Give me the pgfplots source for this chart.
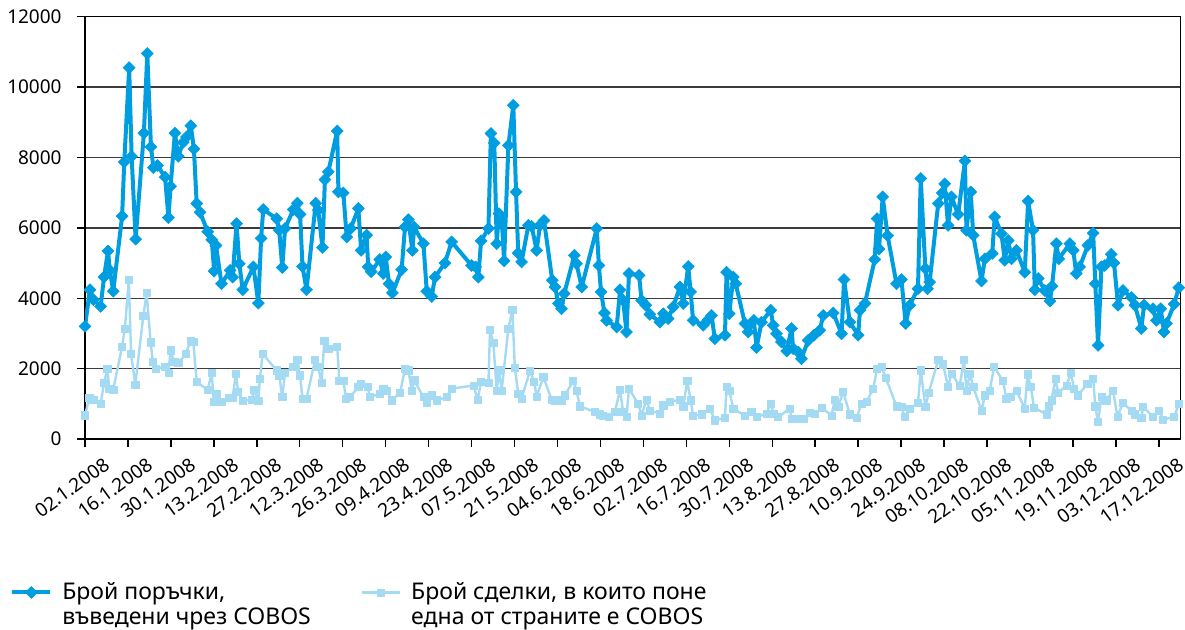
\documentclass[border=0pt]{standalone}
\usepackage{fontspec}
\setmainfont{Noto Sans}[Script=Cyrillic,Language=Bulgarian]
\usepackage{pgfplots}
\usepackage{pgfplotstable}
\pgfplotsset{compat=1.18}
\definecolor{darkser}{RGB}{0,158,224}
\definecolor{lightser}{RGB}{165,218,243}
\definecolor{gridc}{RGB}{60,60,60}

\pgfplotstableread{
d v
0 3200
1.6 4240
2.7 3960
5.1 3770
6.2 4600
7.5 5340
8.1 4790
9.2 4200
12.1 6330
12.8 7870
14.4 10550
15.2 8030
16.5 5680
19.2 8690
20.3 10950
21.5 8300
22.3 7710
23.6 7770
26.1 7440
27.2 6290
27.9 7180
29.3 8690
30.4 8030
32.0 8430
33.1 8580
34.5 8900
35.5 8240
36.4 6690
37.5 6440
40.0 5890
41.3 5660
42.1 4770
42.7 5500
44.5 4410
47.3 4790
48.1 4600
49.4 6120
50.3 4980
51.4 4240
54.9 4890
56.5 3860
57.4 5700
58.1 6520
62.5 6260
63.3 5930
64.3 4870
65.2 5980
67.9 6520
69.2 6700
70.1 6380
70.9 4900
72.2 4240
75.2 6700
76.0 6500
77.4 5440
78.2 7370
79.3 7590
82.2 8750
82.6 7020
84.2 6990
85.3 5740
86.6 5980
89.1 6550
90.0 5360
91.8 5790
92.3 4890
93.3 4750
96.1 5100
97.2 4700
98.0 5170
99.1 4410
100.2 4150
103.2 4810
104.3 6020
105.4 6230
106.7 5360
107.3 6020
110.3 5550
111.4 4200
113.0 4050
114.1 4600
117.3 5000
119.5 5600
126.0 4930
127.3 4890
128.2 4600
129.1 5630
131.5 5980
132.3 8680
133.4 8410
134.2 5550
134.9 6400
135.8 6310
136.6 5060
138.0 8340
139.6 9480
140.5 7020
141.2 5280
142.3 5030
144.5 6070
145.6 6040
147.2 5360
148.3 6070
149.6 6210
152.3 4510
153.2 4320
154.3 3850
155.3 3700
156.2 4130
159.5 5220
160.2 4980
161.9 4320
166.8 5980
167.5 4930
168.2 4180
169.3 3580
170.0 3370
173.3 3180
174.4 4240
175.4 3940
176.5 3040
177.3 4700
180.6 4650
181.4 3940
182.8 3800
184.1 3540
187.4 3320
188.5 3560
190.1 3420
191.7 3750
193.9 4320
195.0 3850
196.6 4900
197.4 4180
198.2 3370
201.5 3230
203.1 3390
204.2 3510
205.3 2850
208.6 2950
209.1 4740
210.0 3560
211.3 4600
212.1 4410
215.1 3280
216.2 3040
218.0 3370
218.9 2600
220.5 3320
223.5 3660
224.3 3230
225.4 2990
227.0 2760
228.7 2500
230.3 3140
230.8 2570
232.5 2470
233.5 2280
235.7 2800
237.6 2950
239.5 3090
240.6 3510
243.9 3580
246.6 2990
247.4 4530
249.3 3320
252.0 2950
252.6 3660
254.2 3850
257.4 5100
258.2 6260
258.8 5400
260.0 6880
261.6 5780
264.5 4410
266.1 4530
267.5 3280
268.8 3800
271.5 4270
272.4 7400
273.9 4840
274.6 4270
275.3 4460
278.1 6690
279.4 6990
280.2 7250
281.3 6070
282.4 6880
284.6 6380
286.8 7900
287.3 5930
288.7 7020
289.5 5790
292.2 4490
293.3 5120
295.7 5270
296.5 6310
298.7 5830
299.8 5080
300.9 5640
302.0 5120
303.6 5360
306.3 4740
307.4 6760
309.0 5930
309.6 4240
310.7 4560
312.8 4220
314.5 3920
315.2 4340
316.6 5550
317.4 5120
321.0 5550
322.1 5360
323.1 4700
324.2 4890
326.9 5500
328.6 5850
329.3 4410
330.2 2660
331.3 4890
332.4 4930
334.5 5250
335.4 5000
336.7 3800
338.3 4220
341.1 4020
342.2 3800
344.3 3140
345.2 3800
348.1 3700
349.2 3370
350.6 3700
351.7 3040
352.5 3280
355.0 3830
356.5 4300
}\darkdata

\pgfplotstableread{
d v
0 672
1.4 1170
2.7 1120
5.1 1000
6.2 1590
7.3 2000
7.9 1430
9.2 1400
12.1 2630
13.0 3140
14.3 4530
15.0 2420
16.4 1550
19.0 3490
20.1 4150
21.4 2750
22.1 2190
23.1 1990
26.1 2060
27.2 1890
27.9 2520
29.1 2190
30.4 2160
32.9 2420
34.4 2800
35.3 2760
36.4 1620
40.0 1400
41.3 1880
42.0 1050
42.9 1290
44.5 1050
47.0 1170
48.1 1170
49.2 1860
49.9 1340
51.4 1080
54.3 1120
55.1 1400
56.5 1080
57.0 1710
57.9 2420
62.5 1950
63.3 1810
64.3 1190
65.2 1880
67.9 2060
69.2 2250
70.1 1810
70.9 1150
72.2 1150
75.0 2250
76.0 2050
77.1 1590
78.0 2780
79.3 2570
82.2 2630
82.9 1650
84.2 1650
85.1 1150
86.4 1190
89.1 1480
90.0 1570
92.1 1480
92.9 1190
96.1 1290
97.2 1430
98.3 1380
99.9 1100
102.7 1310
104.3 2000
105.4 1950
106.5 1380
107.3 1670
110.3 1190
111.4 1020
113.0 1240
114.6 1100
117.9 1190
119.5 1430
126.6 1520
128.0 1120
129.1 1620
131.5 1590
132.0 3110
133.1 2730
134.2 1380
134.9 1950
135.8 1380
138.0 3140
139.3 3660
140.1 2030
141.2 1290
142.3 1150
145.0 1930
146.4 1620
147.2 1210
149.4 1760
152.1 1120
153.2 1100
155.3 1100
156.4 1240
159.1 1650
160.2 1380
161.3 930
166.2 770
167.8 700
168.9 670
170.6 640
172.7 770
174.4 1400
175.4 770
176.5 625
177.3 1430
180.3 1000
181.4 670
183.0 1120
184.1 810
187.4 720
188.5 960
190.6 1050
193.9 1120
195.0 930
196.3 1650
197.4 1100
198.2 670
201.0 700
203.7 860
205.3 530
208.6 610
209.1 1480
210.0 1380
211.3 860
215.1 670
217.2 770
218.9 625
222.1 720
223.5 1000
224.5 720
225.9 625
229.7 860
230.3 580
232.5 580
234.1 580
236.3 740
237.9 720
240.1 890
243.3 670
244.4 1120
245.5 910
247.1 1340
249.3 700
251.5 610
253.1 1000
254.7 1050
256.9 1430
258.2 2000
259.6 2050
261.0 1740
264.5 930
266.1 910
267.2 625
268.8 860
271.5 1020
272.4 1950
273.9 910
275.0 1310
278.1 2250
279.7 2120
281.3 1480
282.4 1860
285.1 1520
286.5 2250
287.3 1380
288.4 1860
289.5 1480
292.2 810
293.3 1240
294.9 1380
296.3 2050
299.2 1650
300.3 1150
301.7 1210
303.6 1380
306.3 860
307.2 1840
308.3 1480
309.3 890
313.4 700
314.1 930
315.0 1100
316.3 1710
317.2 1310
319.9 1520
321.3 1880
322.4 1430
323.7 1240
326.7 1570
328.6 1710
329.3 930
330.2 480
331.3 1190
332.9 1100
335.1 1380
336.5 640
338.3 1020
341.1 810
342.2 700
344.3 610
344.9 910
348.1 640
350.0 810
351.4 550
355.0 625
356.5 1000
}\lightdata

\begin{document}
\begin{tikzpicture}
\begin{axis}[
  at={(0,0)}, anchor=south west,
  scale only axis, width=547.8pt, height=211.2pt,
  xmin=0, xmax=357.1, ymin=0, ymax=12000,
  scaled y ticks=false, scaled x ticks=false,
  xtick={0,14,...,350},
  xticklabels={02.1.2008,16.1.2008,30.1.2008,13.2.2008,27.2.2008,12.3.2008,26.3.2008,09.4.2008,23.4.2008,07.5.2008,21.5.2008,04.6.2008,18.6.2008,02.7.2008,16.7.2008,30.7.2008,13.8.2008,27.8.2008,10.9.2008,24.9.2008,08.10.2008,22.10.2008,05.11.2008,19.11.2008,03.12.2008,17.12.2008},
  ytick={0,2000,...,12000},
  yticklabels={0,2000,4000,6000,8000,10000,12000},
  tick pos=left, tick align=outside,
  major tick length=4pt,
  ymajorgrids, grid style={gridc, line width=0.7pt},
  axis line style={black, line width=0.8pt},
  tick style={black, line width=0.7pt},
  ticklabel style={font=\fontsize{9.5}{11}\selectfont},
  yticklabel style={anchor=east, inner sep=0pt, xshift=-7.5pt},
  xticklabel style={inner sep=0pt, xshift=9pt, yshift=-4.5pt, rotate=36, anchor=north east},
  legend style={at={(axis description cs:-0.0685,-0.329)}, anchor=north west,
    draw=none, fill=none, inner sep=0pt,
    font=\fontsize{11.5}{12.5}\selectfont,
    cells={align=left},
    /tikz/every odd column/.append style={column sep=3pt},
    /tikz/every even column/.append style={column sep=23pt}},
  legend columns=2, legend cell align=left,
  legend image code/.code={\draw[mark repeat=2,mark phase=2,#1] plot coordinates {(0pt,6.2pt) (9.5pt,6.2pt) (19pt,6.2pt)};},
]
\addplot[darkser, line width=2pt, line join=round, mark=square*, mark size=2.1pt, mark options={rotate=45, solid, fill=darkser, draw=darkser, line width=0.3pt, line join=miter}] table[x=d,y=v] {\darkdata};
\addlegendentry{Брой поръчки,\\въведени чрез COBOS}
\addplot[lightser, line width=1.2pt, line join=round, mark=square*, mark size=1.8pt, mark options={solid, fill=lightser, draw=lightser, line width=0.3pt}] table[x=d,y=v] {\lightdata};
\addlegendentry{Брой сделки, в които поне\\една от страните е COBOS}
\end{axis}
\pgfresetboundingbox
\path[use as bounding box] (-42.5pt,-95pt) rectangle (550pt,219.5pt);
\end{tikzpicture}
\end{document}
